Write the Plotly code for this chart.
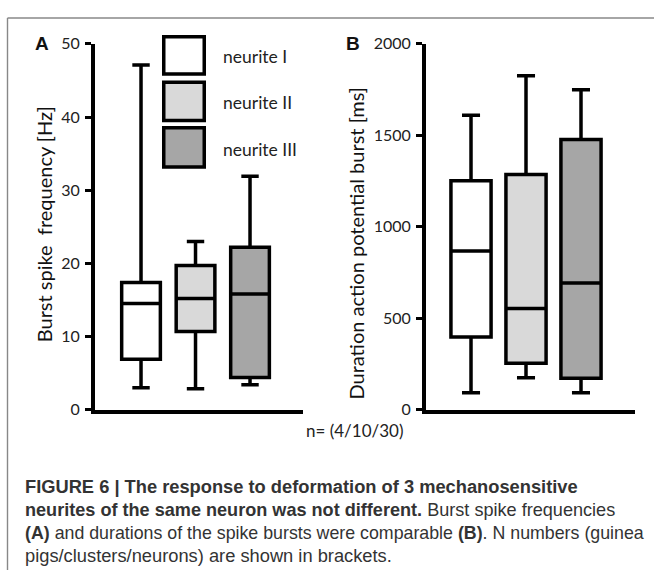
import plotly.graph_objects as go

W, H = 654, 579

series = ["neurite I", "neurite II", "neurite III"]
fills = ["#ffffff", "#d9d9d9", "#a6a6a6"]

# Panel A: burst spike frequency [Hz]
a_low = [3.0, 2.85, 3.4]
a_q1 = [6.9, 10.7, 4.4]
a_med = [14.5, 15.2, 15.8]
a_q3 = [17.4, 19.7, 22.2]
a_high = [47.1, 23.0, 31.9]

# Panel B: duration of action potential burst [ms]
b_low = [93, 175, 93]
b_q1 = [398, 254, 172]
b_med = [868, 553, 693]
b_q3 = [1251, 1286, 1477]
b_high = [1610, 1825, 1749]

a_ticks = [0, 10, 20, 30, 40, 50]
b_ticks = [0, 500, 1000, 1500, 2000]

a_title = "Burst spike  frequency [Hz]"
b_title = "Duration action potential burst [ms]"
n_label = "n= (4/10/30)"

caption = [
    "<b>FIGURE 6 | The response to deformation of 3 mechanosensitive</b>",
    "<b>neurites of the same neuron was not different.</b> Burst spike frequencies",
    "<b>(A)</b> and durations of the spike bursts were comparable <b>(B)</b>. N numbers (guinea",
    "pigs/clusters/neurons) are shown in brackets.",
]
caption_sizes = [18.3, 18.1, 17.8, 18.3]


def px(x):
    return x / W


def py(y):
    return 1 - y / H


BOX_LINE = 3.5
fig = go.Figure()

for i, name in enumerate(series):
    fig.add_trace(go.Box(
        x=[i], q1=[a_q1[i]], median=[a_med[i]], q3=[a_q3[i]],
        lowerfence=[a_low[i]], upperfence=[a_high[i]],
        width=0.71, whiskerwidth=0.45, fillcolor=fills[i],
        line=dict(color="black", width=BOX_LINE), name=name,
        xaxis="x", yaxis="y", showlegend=False, hoverinfo="skip",
    ))
    fig.add_trace(go.Box(
        x=[i], q1=[b_q1[i]], median=[b_med[i]], q3=[b_q3[i]],
        lowerfence=[b_low[i]], upperfence=[b_high[i]],
        width=0.73, whiskerwidth=0.45, fillcolor=fills[i],
        line=dict(color="black", width=BOX_LINE), name=name,
        xaxis="x2", yaxis="y2", showlegend=False, hoverinfo="skip",
    ))

tick_font = dict(family="Lato", size=16, color="#222")
common_y = dict(showline=True, linecolor="black", linewidth=3.5, ticks="outside",
                ticklen=6, tickwidth=3, tickcolor="black", showgrid=False,
                zeroline=False, tickfont=tick_font, ticklabelstandoff=2)
common_x = dict(showline=True, linecolor="black", linewidth=3.5, showticklabels=False,
                ticks="", showgrid=False, zeroline=False)

fig.update_layout(
    width=W, height=H, margin=dict(l=0, r=0, t=0, b=0),
    paper_bgcolor="white", plot_bgcolor="white",
    xaxis=dict(domain=[px(94.75), px(303)], range=[-0.849, 2.972], anchor="y", **common_x),
    yaxis=dict(domain=[py(413.25), py(35)], range=[0, 50], tickvals=a_ticks,
               anchor="x", **common_y),
    xaxis2=dict(domain=[px(425.75), px(635)], range=[-0.823, 2.982], anchor="y2", **common_x),
    yaxis2=dict(domain=[py(413.25), py(35)], range=[0, 2000], tickvals=b_ticks,
                anchor="x2", **common_y),
)

shapes = []
annotations = []
# frame lines (top and left)
shapes.append(dict(type="line", xref="paper", yref="paper", x0=px(7.5), x1=1, y0=py(8.2), y1=py(8.2),
                   line=dict(color="#888888", width=1.4)))
shapes.append(dict(type="line", xref="paper", yref="paper", x0=px(7.5), x1=px(7.5), y0=py(8.2), y1=0,
                   line=dict(color="#888888", width=1.4)))

# legend boxes
leg_y = [(27.75, 66.25), (74.75, 114.25), (121.75, 162.25)]
leg_text_y = [48, 96, 144]
for i, name in enumerate(series):
    t, b = leg_y[i]
    shapes.append(dict(type="rect", xref="paper", yref="paper",
                       x0=px(163.75), x1=px(204.25), y0=py(b), y1=py(t),
                       fillcolor=fills[i], line=dict(color="black", width=BOX_LINE)))
    annotations.append(dict(x=px(221), y=py(leg_text_y[i]), xref="paper", yref="paper",
                            text=name, showarrow=False, xanchor="left", yanchor="middle",
                            font=dict(family="Lato", size=17.5, color="#222")))

# axis titles
annotations.append(dict(x=px(44), y=py(221.5), xref="paper", yref="paper", text=a_title,
                        textangle=-90, showarrow=False, xanchor="center", yanchor="middle",
                        font=dict(family="Lato", size=20, color="#111")))
annotations.append(dict(x=px(356.5), y=py(242), xref="paper", yref="paper", text=b_title,
                        textangle=-90, showarrow=False, xanchor="center", yanchor="middle",
                        font=dict(family="Lato", size=20, color="#111")))

# panel letters
annotations.append(dict(x=px(42.5), y=py(34.5), xref="paper", yref="paper", text="<b>A</b>",
                        showarrow=False, xanchor="center", yanchor="middle",
                        font=dict(family="Liberation Sans", size=19, color="#111")))
annotations.append(dict(x=px(352.5), y=py(34.5), xref="paper", yref="paper", text="<b>B</b>",
                        showarrow=False, xanchor="center", yanchor="middle",
                        font=dict(family="Liberation Sans", size=19, color="#111")))
# n label
annotations.append(dict(x=px(354.5), y=py(435), xref="paper", yref="paper", text=n_label,
                        showarrow=False, xanchor="center", yanchor="middle",
                        font=dict(family="Lato", size=17, color="#222")))

cap_y = [493, 517, 541, 564]
for line, yy, fs in zip(caption, cap_y, caption_sizes):
    annotations.append(dict(x=px(22.7), y=py(yy), xref="paper", yref="paper", text=line,
                            showarrow=False, xanchor="left", yanchor="middle",
                            font=dict(family="Liberation Sans", size=fs, color="#333")))

fig.update_layout(shapes=shapes, annotations=annotations)
fig.write_html("out.html", config={"displayModeBar": False},
               post_script="document.body.style.margin='0';")
